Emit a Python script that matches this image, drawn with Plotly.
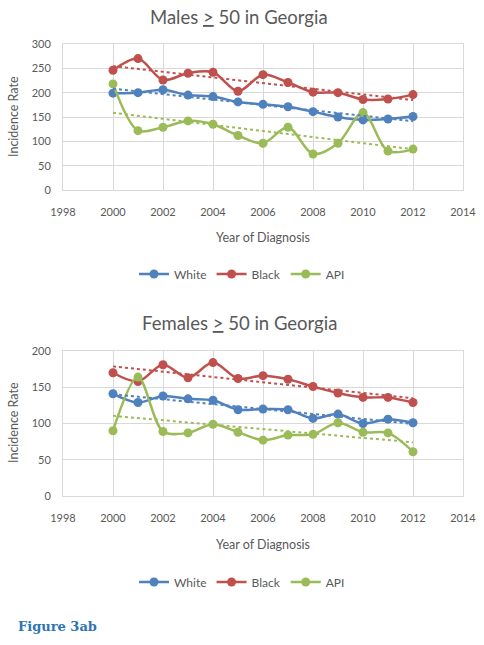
import numpy as np
import plotly.graph_objects as go

years = [2000, 2001, 2002, 2003, 2004, 2005, 2006, 2007, 2008, 2009, 2010, 2011, 2012]

males_white = [199, 200, 206, 195, 192, 181, 176, 171, 161, 150, 144, 146, 151]
males_black = [246, 270, 226, 240, 242, 203, 237, 221, 201, 200, 186, 187, 196]
males_api = [218, 122, 129, 142, 135, 112, 96, 129, 74, 96, 159, 80, 84]

females_white = [141, 129, 138, 134, 132, 119, 120, 119, 107, 113, 100, 106, 101]
females_black = [170, 158, 181, 163, 184, 162, 166, 161, 151, 142, 136, 136, 129]
females_api = [90, 164, 89, 87, 99, 88, 77, 84, 85, 101, 88, 87, 61]

series_names = ["White", "Black", "API"]
colors = ["#4F81BD", "#C0504D", "#9BBB59"]

x_ticks = [1998, 2000, 2002, 2004, 2006, 2008, 2010, 2012, 2014]

FONT = "Lato"
GRAY = "#595959"
GRID = "#D9D9D9"

fig = go.Figure()

def add_panel(values_list, xa, ya, legend_name):
    for name, vals, col in zip(series_names, values_list, colors):
        fig.add_trace(go.Scatter(
            x=years, y=vals, name=name, mode="lines+markers",
            line=dict(color=col, width=2.5, shape="spline", smoothing=0.9),
            marker=dict(color=col, size=9),
            xaxis=xa, yaxis=ya, legend=legend_name, showlegend=True))
    for name, vals, col in zip(series_names, values_list, colors):
        slope, icpt = np.polyfit(years, vals, 1)
        tx = [years[0], years[-1]]
        ty = [slope * t + icpt for t in tx]
        fig.add_trace(go.Scatter(
            x=tx, y=ty, mode="lines", showlegend=False,
            line=dict(color=col, width=2, dash="dot"),
            xaxis=xa, yaxis=ya, hoverinfo="skip"))

add_panel([males_white, males_black, males_api], "x", "y", "legend")
add_panel([females_white, females_black, females_api], "x2", "y2", "legend2")

xdom = [63 / 484, 463 / 484]
top_dom = [1 - 190 / 645, 1 - 44 / 645]
bot_dom = [1 - 496 / 645, 1 - 351 / 645]

axis_font = dict(family=FONT, size=11, color=GRAY)

def xaxis(anchor):
    return dict(domain=xdom, anchor=anchor, range=[1998, 2014], tickvals=x_ticks,
                tickformat="d", showgrid=True, gridcolor=GRID, gridwidth=1,
                showline=True, linecolor=GRID, mirror=True, zeroline=False,
                tickfont=axis_font, ticks="", ticklabelstandoff=12, automargin=False)

def yaxis(anchor, dom, top):
    return dict(domain=dom, anchor=anchor, range=[0, top], dtick=50,
                showgrid=True, gridcolor=GRID, gridwidth=1,
                showline=True, linecolor=GRID, mirror=True, zeroline=False,
                tickfont=axis_font, ticks="", ticklabelstandoff=9, automargin=False)

annotations = []
def text(x, y, s, size, angle=0, color=GRAY):
    annotations.append(dict(x=x / 484, y=1 - y / 645, xref="paper", yref="paper",
                            text=s, showarrow=False, textangle=angle,
                            font=dict(family=FONT, size=size, color=color),
                            xanchor="center", yanchor="middle"))

text(239, 17, "Males <u>&gt;</u> 50 in Georgia", 18.5)
text(239, 323, "Females <u>&gt;</u> 50 in Georgia", 18.5)
text(263, 237, "Year of Diagnosis", 12.5)
text(263, 544, "Year of Diagnosis", 12.5)
text(13, 117, "Incidence Rate", 12.5, -90)
text(13, 423, "Incidence Rate", 12.5, -90)

annotations.append(dict(x=16 / 484, y=1 - 626 / 645, xref="paper", yref="paper",
                        text="<b>Figure 3ab</b>", showarrow=False,
                        font=dict(family="DejaVu Serif", size=13, color="#2E74B5"),
                        xanchor="left", yanchor="middle"))

leg_common = dict(orientation="h", xanchor="center", yanchor="middle",
                  font=dict(family=FONT, size=12, color=GRAY), bgcolor="rgba(0,0,0,0)",
                  itemwidth=30, tracegroupgap=0)

fig.update_layout(
    width=484, height=645,
    margin=dict(l=0, r=0, t=0, b=0, pad=0, autoexpand=False),
    paper_bgcolor="white", plot_bgcolor="white",
    xaxis=xaxis("y"), yaxis=yaxis("x", top_dom, 300),
    xaxis2=xaxis("y2"), yaxis2=yaxis("x2", bot_dom, 200),
    legend=dict(x=0.5, y=1 - 274 / 645, **leg_common),
    legend2=dict(x=0.5, y=1 - 582 / 645, **leg_common),
    annotations=annotations,
    showlegend=True,
)

fig.write_html("out.html", config={"displayModeBar": False},
               post_script="document.body.style.margin='0';document.body.style.overflow='hidden';")
